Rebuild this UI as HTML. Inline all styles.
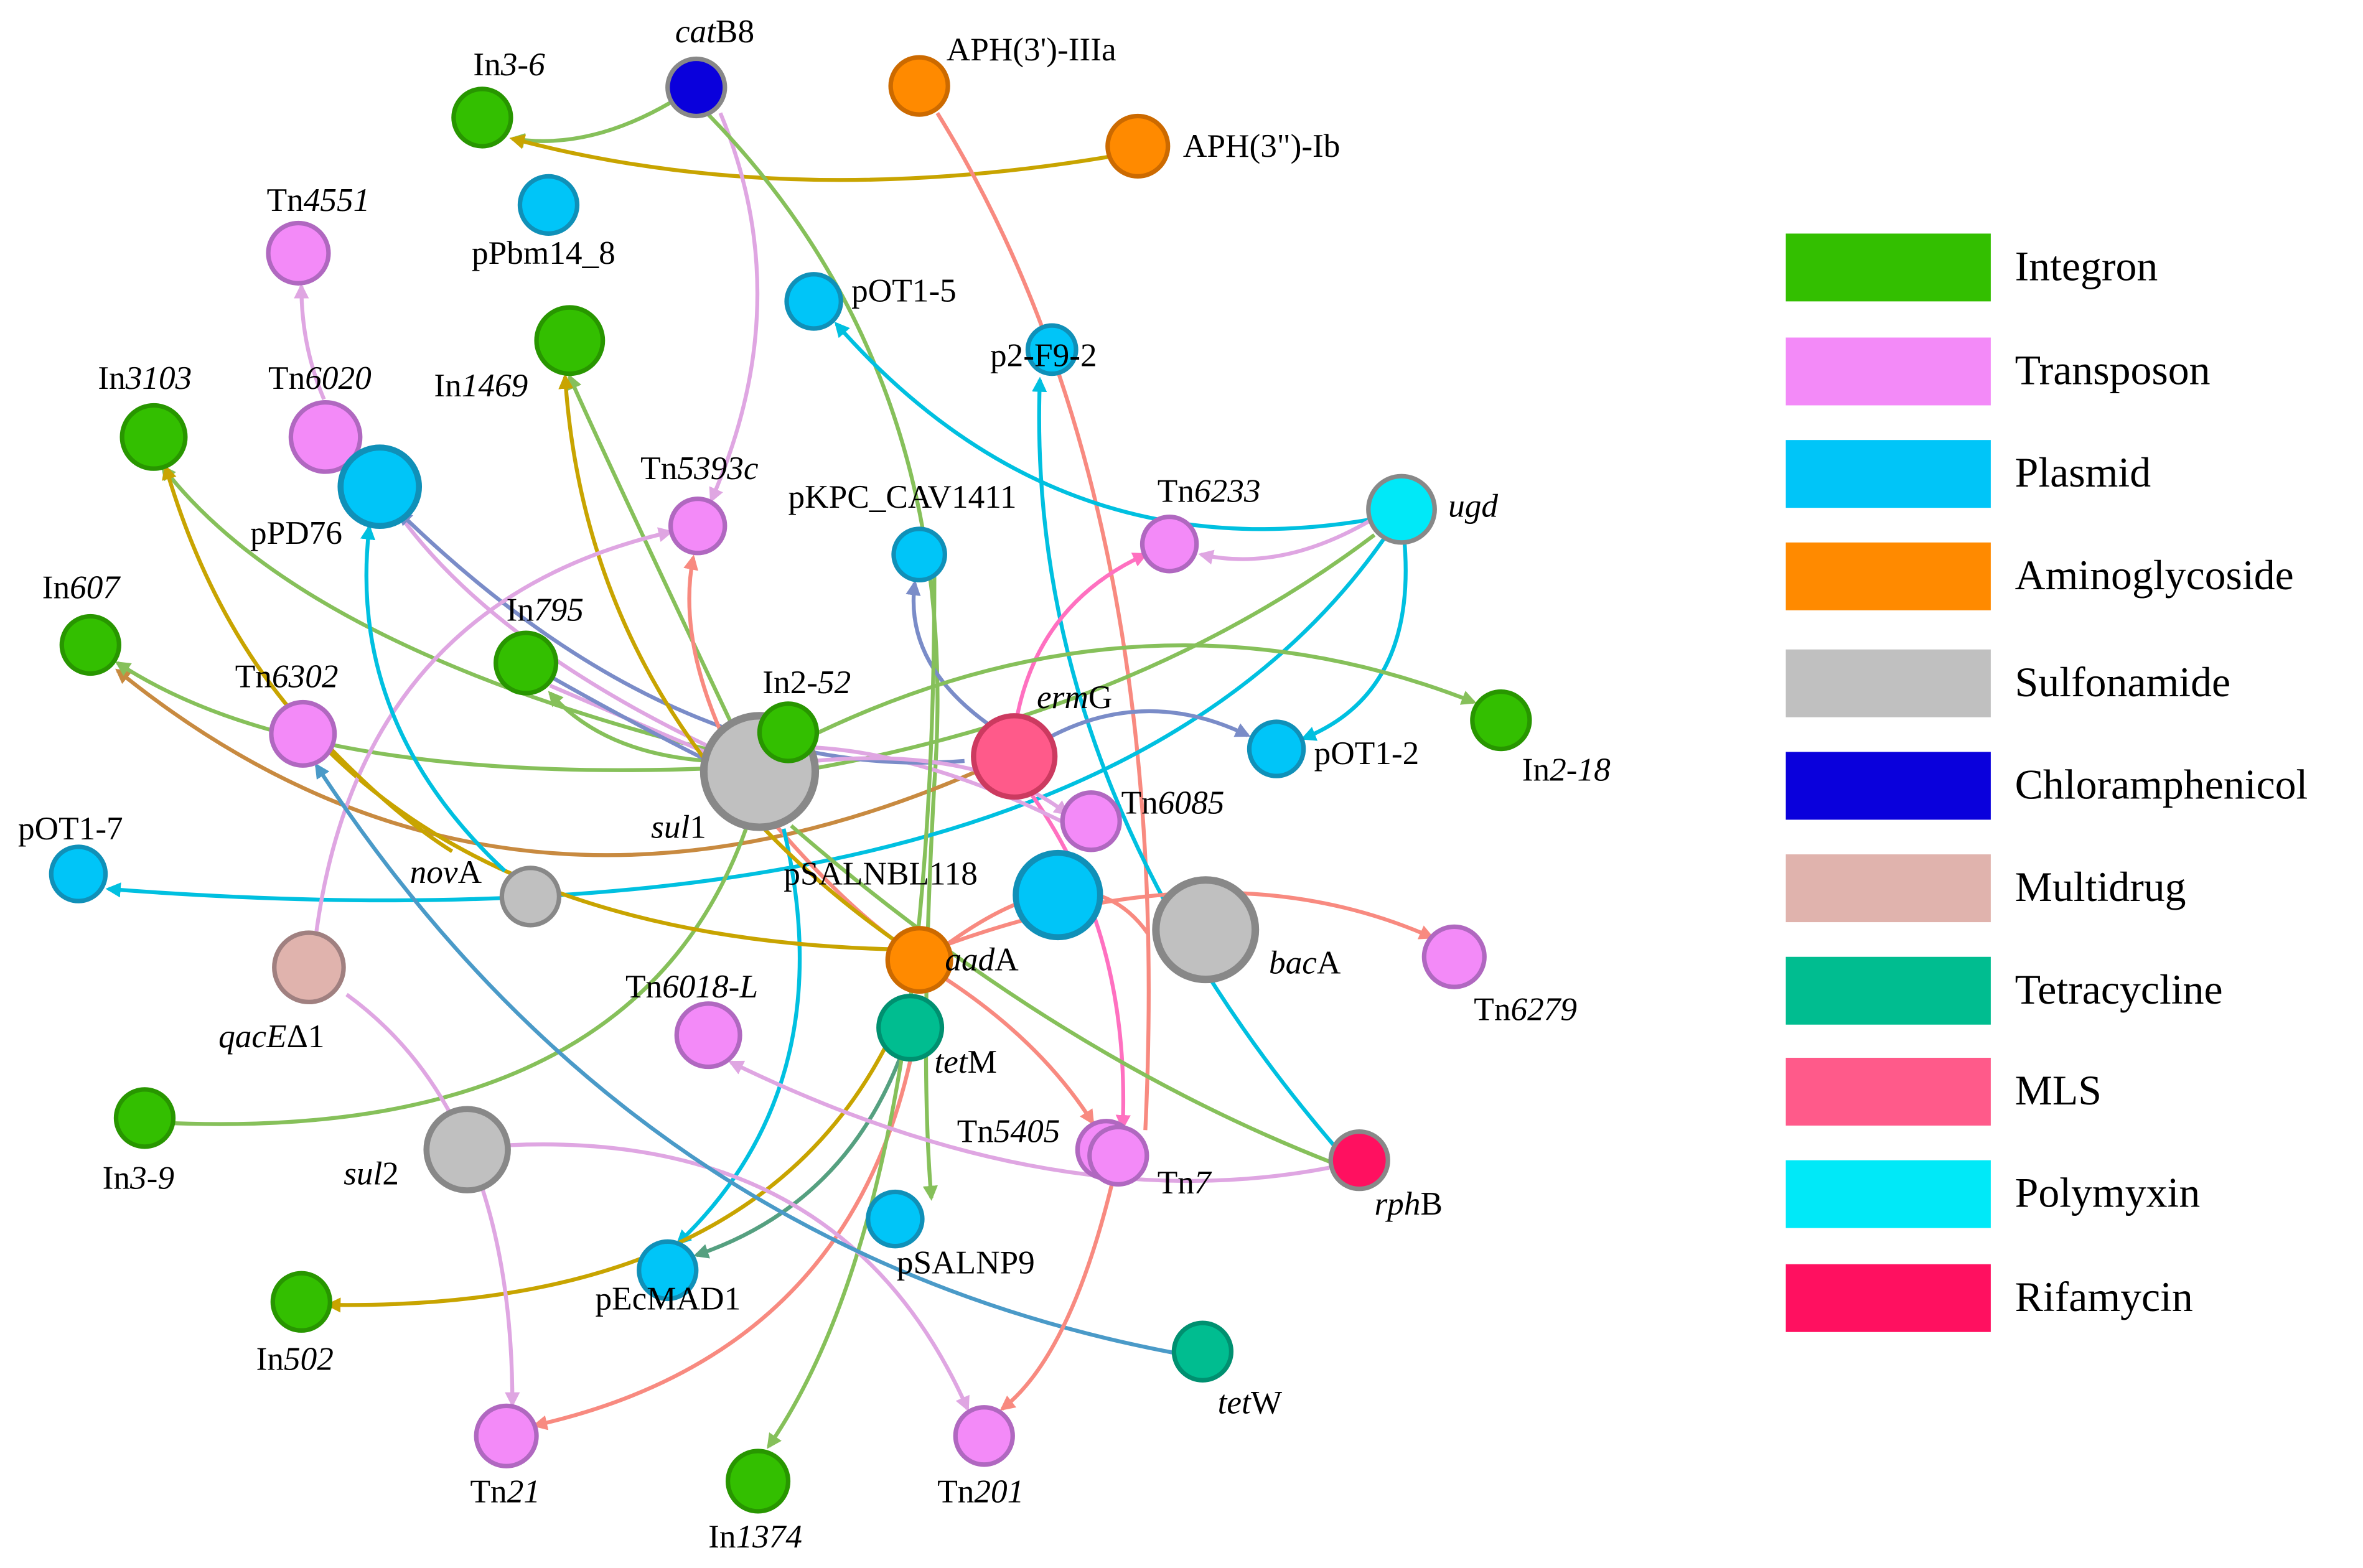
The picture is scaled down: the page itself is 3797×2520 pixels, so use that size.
<!DOCTYPE html>
<html><head><meta charset="utf-8"><style>
html,body{margin:0;padding:0;background:#fff;}
svg{display:block}
text{font-family:"Liberation Serif",serif;font-size:22px;fill:#000}
.lg{font-size:28px}
path{fill:none;stroke-width:2.6}
.g{stroke:#86c05a}.go{stroke:#c8a400}.lv{stroke:#dfa6e2}.sa{stroke:#f88a80}.cy{stroke:#00c0e0}.sb{stroke:#7a8cc8}.br{stroke:#c88a40}.pk{stroke:#ff70c0}.tl{stroke:#55a080}.st{stroke:#4a9ac8}
</style></head><body>
<svg width="3797" height="2520" viewBox="0 0 1568 1040.6" xmlns="http://www.w3.org/2000/svg" font-family="Liberation Serif, serif">
<defs>
<marker id="mg" markerWidth="10" markerHeight="10" refX="8" refY="5" orient="auto" markerUnits="userSpaceOnUse"><path d="M0,0 L10,5 L0,10 z" style="fill:#86c05a;stroke:none"/></marker>
<marker id="mgo" markerWidth="10" markerHeight="10" refX="8" refY="5" orient="auto" markerUnits="userSpaceOnUse"><path d="M0,0 L10,5 L0,10 z" style="fill:#c8a400;stroke:none"/></marker>
<marker id="mlv" markerWidth="10" markerHeight="10" refX="8" refY="5" orient="auto" markerUnits="userSpaceOnUse"><path d="M0,0 L10,5 L0,10 z" style="fill:#dfa6e2;stroke:none"/></marker>
<marker id="msa" markerWidth="10" markerHeight="10" refX="8" refY="5" orient="auto" markerUnits="userSpaceOnUse"><path d="M0,0 L10,5 L0,10 z" style="fill:#f88a80;stroke:none"/></marker>
<marker id="mcy" markerWidth="10" markerHeight="10" refX="8" refY="5" orient="auto" markerUnits="userSpaceOnUse"><path d="M0,0 L10,5 L0,10 z" style="fill:#00c0e0;stroke:none"/></marker>
<marker id="msb" markerWidth="10" markerHeight="10" refX="8" refY="5" orient="auto" markerUnits="userSpaceOnUse"><path d="M0,0 L10,5 L0,10 z" style="fill:#7a8cc8;stroke:none"/></marker>
<marker id="mbr" markerWidth="10" markerHeight="10" refX="8" refY="5" orient="auto" markerUnits="userSpaceOnUse"><path d="M0,0 L10,5 L0,10 z" style="fill:#c88a40;stroke:none"/></marker>
<marker id="mpk" markerWidth="10" markerHeight="10" refX="8" refY="5" orient="auto" markerUnits="userSpaceOnUse"><path d="M0,0 L10,5 L0,10 z" style="fill:#ff70c0;stroke:none"/></marker>
<marker id="mtl" markerWidth="10" markerHeight="10" refX="8" refY="5" orient="auto" markerUnits="userSpaceOnUse"><path d="M0,0 L10,5 L0,10 z" style="fill:#55a080;stroke:none"/></marker>
<marker id="mst" markerWidth="10" markerHeight="10" refX="8" refY="5" orient="auto" markerUnits="userSpaceOnUse"><path d="M0,0 L10,5 L0,10 z" style="fill:#4a9ac8;stroke:none"/></marker>
</defs>
<rect width="1568" height="1041" fill="#fff"/>
<path class="g" d="M445,68 Q390,100 340,92" marker-end="url(#mg)"/>
<path class="go" d="M736,104 Q520,140 340,92" marker-end="url(#mgo)"/>
<path class="lv" d="M478,75 Q530,200 472,332" marker-end="url(#mlv)"/>
<path class="g" d="M470,76 Q640,250 620,520 Q610,700 618,795" marker-end="url(#mg)"/>
<path class="sa" d="M622,75 Q780,330 760,750"/>
<path class="cy" d="M908,345 Q700,380 555,215" marker-end="url(#mcy)"/>
<path class="lv" d="M910,345 Q850,380 797,368" marker-end="url(#mlv)"/>
<path class="cy" d="M932,360 Q940,460 865,490" marker-end="url(#mcy)"/>
<path class="cy" d="M918,358 Q720,640 72,590" marker-end="url(#mcy)"/>
<path class="g" d="M912,355 Q760,470 540,510"/>
<path class="cy" d="M885,760 Q680,520 690,252" marker-end="url(#mcy)"/>
<path class="pk" d="M675,475 Q690,400 760,368" marker-end="url(#mpk)"/>
<path class="sb" d="M695,490 Q760,455 828,488" marker-end="url(#msb)"/>
<path class="sb" d="M655,480 Q600,440 607,387" marker-end="url(#msb)"/>
<path class="br" d="M648,512 Q330,650 78,445" marker-end="url(#mbr)"/>
<path class="pk" d="M685,528 Q750,620 745,748" marker-end="url(#mpk)"/>
<path class="lv" d="M718,552 Q580,480 480,500 Q330,430 266,343"/>
<path class="sb" d="M640,505 Q450,520 265,340" marker-end="url(#msb)"/>
<path class="g" d="M490,490 Q400,300 378,250" marker-end="url(#mg)"/>
<path class="g" d="M480,500 Q200,430 108,310" marker-end="url(#mg)"/>
<path class="g" d="M470,510 Q200,520 78,440" marker-end="url(#mg)"/>
<path class="g" d="M470,505 Q400,500 365,460" marker-end="url(#mg)"/>
<path class="lv" d="M470,500 Q400,470 365,455"/>
<path class="sb" d="M470,505 Q420,480 367,450"/>
<path class="sa" d="M478,485 Q450,420 460,370" marker-end="url(#msa)"/>
<path class="g" d="M535,490 Q760,380 978,466" marker-end="url(#mg)"/>
<path class="lv" d="M540,505 Q650,495 708,540" marker-end="url(#mlv)"/>
<path class="sa" d="M515,548 Q560,600 595,625"/>
<path class="cy" d="M520,550 Q560,720 450,825" marker-end="url(#mcy)"/>
<path class="g" d="M495,550 Q420,760 105,745" marker-end="url(#mg)"/>
<path class="g" d="M525,548 Q700,700 885,772"/>
<path class="go" d="M592,630 Q200,620 110,310" marker-end="url(#mgo)"/>
<path class="go" d="M595,625 Q390,480 375,250" marker-end="url(#mgo)"/>
<path class="sa" d="M628,627 Q720,560 762,620"/>
<path class="sa" d="M625,628 Q810,560 950,622" marker-end="url(#msa)"/>
<path class="sa" d="M625,648 Q690,690 725,745" marker-end="url(#msa)"/>
<path class="go" d="M590,690 Q500,870 218,866" marker-end="url(#mgo)"/>
<path class="tl" d="M598,700 Q560,800 462,833" marker-end="url(#mtl)"/>
<path class="sa" d="M604,704 Q560,900 355,946" marker-end="url(#msa)"/>
<path class="g" d="M620,382 Q620,800 510,960" marker-end="url(#mg)"/>
<path class="lv" d="M210,618 Q240,400 445,353" marker-end="url(#mlv)"/>
<path class="lv" d="M230,660 Q340,740 340,932" marker-end="url(#mlv)"/>
<path class="lv" d="M338,760 Q560,750 642,935" marker-end="url(#mlv)"/>
<path class="st" d="M780,898 Q420,830 210,508" marker-end="url(#mst)"/>
<path class="lv" d="M215,265 Q200,230 200,190" marker-end="url(#mlv)"/>
<path class="cy" d="M335,578 Q230,480 245,350" marker-end="url(#mcy)"/>
<path class="go" d="M210,487 Q260,540 300,565"/>
<path class="lv" d="M882,775 Q700,810 485,705" marker-end="url(#mlv)"/>
<path class="sa" d="M738,785 Q710,900 665,935" marker-end="url(#msa)"/>
<g stroke-width="3">
<circle cx="320" cy="78" r="19" fill="#33bf00" stroke="#289600"/>
<circle cx="462" cy="58" r="19" fill="#0a00dc" stroke="#888"/>
<circle cx="610" cy="57" r="19" fill="#ff8a00" stroke="#cc6a00"/>
<circle cx="755" cy="97" r="20" fill="#ff8a00" stroke="#cc6a00"/>
<circle cx="364" cy="136" r="19" fill="#00c5f8" stroke="#1090b8"/>
<circle cx="198" cy="168" r="20" fill="#f38af8" stroke="#b068c0"/>
<circle cx="540" cy="200" r="18" fill="#00c5f8" stroke="#1090b8"/>
<circle cx="698" cy="232" r="16" fill="#00c5f8" stroke="#1090b8"/>
<circle cx="378" cy="226" r="22" fill="#33bf00" stroke="#289600"/>
<circle cx="102" cy="290" r="21" fill="#33bf00" stroke="#289600"/>
<circle cx="216" cy="290" r="23" fill="#f38af8" stroke="#b068c0"/>
<circle cx="252" cy="323" r="26" fill="#00c5f8" stroke="#1090b8" stroke-width="4"/>
<circle cx="463" cy="349" r="18" fill="#f38af8" stroke="#b068c0"/>
<circle cx="610" cy="368" r="17" fill="#00c5f8" stroke="#1090b8"/>
<circle cx="776" cy="361" r="18" fill="#f38af8" stroke="#b068c0"/>
<circle cx="930" cy="338" r="22" fill="#00e9f8" stroke="#888"/>
<circle cx="60" cy="428" r="19" fill="#33bf00" stroke="#289600"/>
<circle cx="349" cy="440" r="20" fill="#33bf00" stroke="#289600"/>
<circle cx="201" cy="487" r="21" fill="#f38af8" stroke="#b068c0"/>
<circle cx="504" cy="512" r="37" fill="#c0c0c0" stroke="#888" stroke-width="5"/>
<circle cx="523" cy="486" r="19" fill="#33bf00" stroke="#289600"/>
<circle cx="673" cy="502" r="27" fill="#ff5a8a" stroke="#cc3a60" stroke-width="3.5"/>
<circle cx="847" cy="497" r="18" fill="#00c5f8" stroke="#1090b8"/>
<circle cx="996" cy="478" r="19" fill="#33bf00" stroke="#289600"/>
<circle cx="724" cy="545" r="19" fill="#f38af8" stroke="#b068c0"/>
<circle cx="52" cy="580" r="18" fill="#00c5f8" stroke="#1090b8"/>
<circle cx="352" cy="595" r="19" fill="#c0c0c0" stroke="#888"/>
<circle cx="702" cy="594" r="28" fill="#00c5f8" stroke="#1090b8" stroke-width="4"/>
<circle cx="800" cy="617" r="33" fill="#c0c0c0" stroke="#888" stroke-width="5"/>
<circle cx="965" cy="635" r="20" fill="#f38af8" stroke="#b068c0"/>
<circle cx="205" cy="642" r="23" fill="#e0b3ad" stroke="#a08080"/>
<circle cx="610" cy="637" r="21" fill="#ff8a00" stroke="#cc6a00"/>
<circle cx="470" cy="687" r="21" fill="#f38af8" stroke="#b068c0"/>
<circle cx="604" cy="682" r="21" fill="#00bd90" stroke="#009070"/>
<circle cx="96" cy="742" r="19" fill="#33bf00" stroke="#289600"/>
<circle cx="310" cy="763" r="27" fill="#c0c0c0" stroke="#888" stroke-width="4"/>
<circle cx="734" cy="763" r="19" fill="#f38af8" stroke="#b068c0"/>
<circle cx="742" cy="767" r="19" fill="#f38af8" stroke="#b068c0"/>
<circle cx="902" cy="770" r="19" fill="#ff1060" stroke="#888"/>
<circle cx="594" cy="809" r="18" fill="#00c5f8" stroke="#1090b8"/>
<circle cx="443" cy="843" r="19" fill="#00c5f8" stroke="#1090b8"/>
<circle cx="200" cy="864" r="19" fill="#33bf00" stroke="#289600"/>
<circle cx="798" cy="897" r="19" fill="#00bd90" stroke="#009070"/>
<circle cx="336" cy="953" r="20" fill="#f38af8" stroke="#b068c0"/>
<circle cx="653" cy="953" r="19" fill="#f38af8" stroke="#b068c0"/>
<circle cx="503" cy="983" r="20" fill="#33bf00" stroke="#289600"/>
</g>
<text x="314" y="50">In<tspan font-style="italic">3-6</tspan></text>
<text x="448" y="28"><tspan font-style="italic">cat</tspan>B8</text>
<text x="628" y="40">APH(3')-IIIa</text>
<text x="785" y="104">APH(3")-Ib</text>
<text x="313" y="175">pPbm14_8</text>
<text x="177" y="140">Tn<tspan font-style="italic">4551</tspan></text>
<text x="565" y="200">pOT1-5</text>
<text x="657" y="243">p2-F9-2</text>
<text x="288" y="263">In<tspan font-style="italic">1469</tspan></text>
<text x="65" y="258">In<tspan font-style="italic">3103</tspan></text>
<text x="178" y="258">Tn<tspan font-style="italic">6020</tspan></text>
<text x="166" y="361">pPD76</text>
<text x="425" y="318">Tn<tspan font-style="italic">5393c</tspan></text>
<text x="523" y="337">pKPC_CAV1411</text>
<text x="768" y="333">Tn<tspan font-style="italic">6233</tspan></text>
<text x="961" y="343" font-style="italic">ugd</text>
<text x="28" y="397">In<tspan font-style="italic">607</tspan></text>
<text x="336" y="412">In<tspan font-style="italic">795</tspan></text>
<text x="156" y="456">Tn<tspan font-style="italic">6302</tspan></text>
<text x="506" y="460">In2-<tspan font-style="italic">52</tspan></text>
<text x="688" y="470"><tspan font-style="italic">erm</tspan>G</text>
<text x="872" y="507">pOT1-2</text>
<text x="1010" y="518">In<tspan font-style="italic">2-18</tspan></text>
<text x="744" y="540">Tn<tspan font-style="italic">6085</tspan></text>
<text x="12" y="557">pOT1-7</text>
<text x="432" y="556"><tspan font-style="italic">sul</tspan>1</text>
<text x="272" y="586"><tspan font-style="italic">nov</tspan>A</text>
<text x="520" y="587">pSALNBL118</text>
<text x="842" y="646"><tspan font-style="italic">bac</tspan>A</text>
<text x="978" y="677">Tn<tspan font-style="italic">6279</tspan></text>
<text x="145" y="695"><tspan font-style="italic">qacE</tspan>Δ1</text>
<text x="627" y="644"><tspan font-style="italic">aad</tspan>A</text>
<text x="415" y="662">Tn<tspan font-style="italic">6018-L</tspan></text>
<text x="620" y="712"><tspan font-style="italic">tet</tspan>M</text>
<text x="68" y="789">In<tspan font-style="italic">3-9</tspan></text>
<text x="228" y="786"><tspan font-style="italic">sul</tspan>2</text>
<text x="635" y="758">Tn<tspan font-style="italic">5405</tspan></text>
<text x="768" y="792">Tn<tspan font-style="italic">7</tspan></text>
<text x="912" y="806"><tspan font-style="italic">rph</tspan>B</text>
<text x="595" y="845">pSALNP9</text>
<text x="395" y="869">pEcMAD1</text>
<text x="170" y="909">In<tspan font-style="italic">502</tspan></text>
<text x="808" y="938"><tspan font-style="italic">tet</tspan>W</text>
<text x="312" y="997">Tn<tspan font-style="italic">21</tspan></text>
<text x="622" y="997">Tn<tspan font-style="italic">201</tspan></text>
<text x="470" y="1027">In<tspan font-style="italic">1374</tspan></text>
<g>
<rect x="1185" y="155" width="136" height="45" fill="#33bf00"/>
<rect x="1185" y="224" width="136" height="45" fill="#f38af8"/>
<rect x="1185" y="292" width="136" height="45" fill="#00c5f8"/>
<rect x="1185" y="360" width="136" height="45" fill="#ff8a00"/>
<rect x="1185" y="431" width="136" height="45" fill="#c0c0c0"/>
<rect x="1185" y="499" width="136" height="45" fill="#0a00dc"/>
<rect x="1185" y="567" width="136" height="45" fill="#e0b3ad"/>
<rect x="1185" y="635" width="136" height="45" fill="#00bd90"/>
<rect x="1185" y="702" width="136" height="45" fill="#ff5a8a"/>
<rect x="1185" y="770" width="136" height="45" fill="#00e9f8"/>
<rect x="1185" y="839" width="136" height="45" fill="#ff1060"/>
<text class="lg" x="1337" y="186">Integron</text>
<text class="lg" x="1337" y="255">Transposon</text>
<text class="lg" x="1337" y="323">Plasmid</text>
<text class="lg" x="1337" y="391">Aminoglycoside</text>
<text class="lg" x="1337" y="462">Sulfonamide</text>
<text class="lg" x="1337" y="530">Chloramphenicol</text>
<text class="lg" x="1337" y="598">Multidrug</text>
<text class="lg" x="1337" y="666">Tetracycline</text>
<text class="lg" x="1337" y="733">MLS</text>
<text class="lg" x="1337" y="801">Polymyxin</text>
<text class="lg" x="1337" y="870">Rifamycin</text>
</g>
</svg>
</body></html>
